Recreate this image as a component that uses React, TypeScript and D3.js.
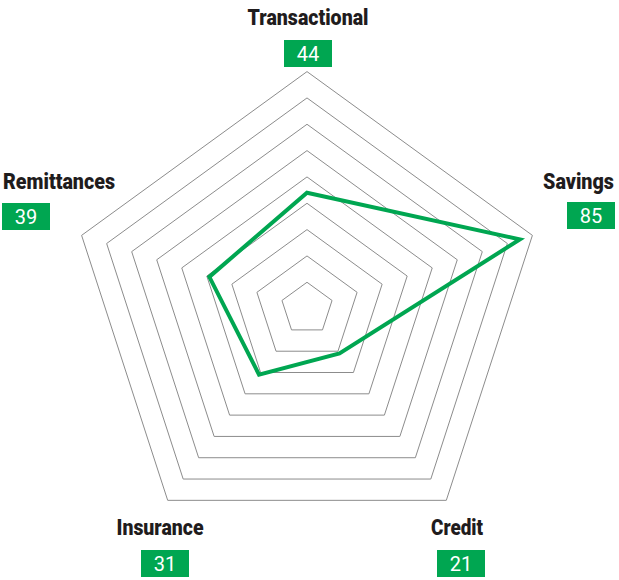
import React, { useRef, useLayoutEffect } from 'react';
import * as d3 from 'd3';

const axes = ['Transactional', 'Savings', 'Credit', 'Insurance', 'Remittances'];
const scores = [44, 85, 21, 31, 39];
const ringLevels = [10, 20, 30, 40, 50, 60, 70, 80, 90];

const GREEN = '#00a651';

// label placement per axis: anchor x, label baseline, box left/top, target label width
const labelLayout = [
    { x: 308, anchor: 'middle', y: 25, boxX: 284, boxY: 40, w: 121 },
    { x: 614, anchor: 'end', y: 189, boxX: 567, boxY: 202, w: 71 },
    { x: 457, anchor: 'middle', y: 535, boxX: 437, boxY: 550, w: 52 },
    { x: 160, anchor: 'middle', y: 535, boxX: 141, boxY: 550, w: 87 },
    { x: 3, anchor: 'start', y: 189, boxX: 2, boxY: 203, w: 112 }
];

export default function App() {
    const width = 619;
    const height = 580;
    const cx = 307;
    const cy = 308.6;
    const svgRef = useRef<SVGSVGElement>(null);

    const r = d3.scaleLinear().domain([0, 90]).range([0, 237]);
    const angle = (i: number) => (i * 2 * Math.PI) / axes.length;

    const ringPath = (level: number) =>
        d3.lineRadial<number>()
            .angle((_, i) => angle(i))
            .radius(() => r(level))
            .curve(d3.curveLinearClosed)(axes.map(() => level)) || '';

    const dataPath = d3.lineRadial<number>()
        .angle((_, i) => angle(i))
        .radius(d => r(d))
        .curve(d3.curveLinearClosed)(scores) || '';

    // squeeze the bold labels horizontally to look condensed
    useLayoutEffect(() => {
        const svg = d3.select(svgRef.current);
        svg.selectAll<SVGTextElement, unknown>('text.axis-label').each(function (_, i) {
            const L = labelLayout[i];
            const natural = this.getComputedTextLength() || L.w;
            const k = Math.min(1, L.w / natural);
            d3.select(this).attr('transform', `translate(${L.x},${L.y}) scale(${k},1)`);
        });
    }, []);

    return (
        <div style={{ position: 'absolute', left: 0, top: 0 }}>
            <svg ref={svgRef} width={width} height={height} style={{ display: 'block', background: '#fff' }}>
                <g transform={`translate(${cx},${cy})`}>
                    {ringLevels.map(l => (
                        <path key={l} d={ringPath(l)} fill="none" stroke="#8c8c8c" strokeWidth={1} />
                    ))}
                    <path d={dataPath} fill="none" stroke={GREEN} strokeWidth={4} strokeLinejoin="miter" />
                </g>
                {axes.map((name, i) => {
                    const L = labelLayout[i];
                    return (
                        <g key={name}>
                            <text className="axis-label" transform={`translate(${L.x},${L.y})`}
                                textAnchor={L.anchor}
                                fontFamily="Roboto, 'Liberation Sans', sans-serif" fontWeight={900}
                                fontSize={22} fill="#1f1c1d">{name}</text>
                            <rect x={L.boxX} y={L.boxY} width={48} height={27} fill={GREEN} />
                            <text x={L.boxX + 24} y={L.boxY + 21} textAnchor="middle"
                                fontFamily="Roboto, 'Liberation Sans', sans-serif"
                                fontSize={20} fill="#fff">{scores[i]}</text>
                        </g>
                    );
                })}
            </svg>
        </div>
    );
}
